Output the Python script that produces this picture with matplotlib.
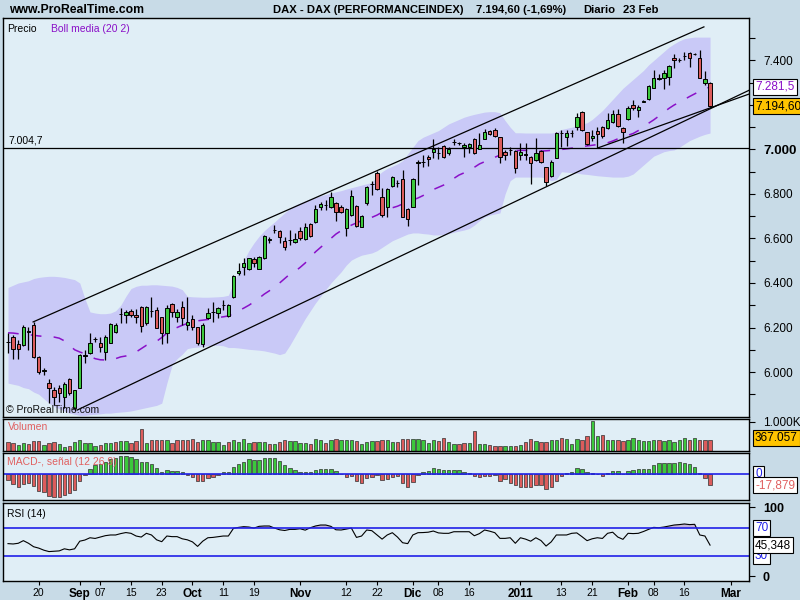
import matplotlib

matplotlib.use("Agg")
import matplotlib.pyplot as plt
import matplotlib.transforms as mtrans
import numpy as np
import pandas as pd

plt.rcParams["font.family"] = ["Liberation Sans", "DejaVu Sans"]

# ---- DAX daily, 12 Aug 2010 .. 23 Feb 2011 ----
opens = [6135, 6156, 6124, 6121, 6181, 6211, 6069, 6003, 5952, 5919,
         5927, 5889, 5969, 5837, 5927, 6072, 6084, 6148, 6129, 6091,
         6132, 6178, 6261, 6255, 6275, 6256, 6291, 6219, 6274, 6279,
         6246, 6174, 6306, 6249, 6293, 6211, 6237, 6201, 6124, 6241,
         6270, 6264, 6300, 6252, 6336, 6445, 6473, 6462, 6506, 6463,
         6511, 6593, 6637, 6634, 6589, 6593, 6583, 6634, 6596, 6664,
         6675, 6740, 6750, 6740, 6758, 6743, 6648, 6706, 6747, 6653,
         6758, 6844, 6896, 6788, 6743, 6836, 6848, 6866, 6731, 6743,
         6940, 6945, 6968, 6987, 6983, 7017, 6985, 7032, 7028, 7010,
         7012, 7046, 7001, 7047, 7083, 7088, 7055, 6987, 6998, 6995,
         6975, 6978, 6965, 6953, 6993, 6920, 6881, 6960, 7075, 7055,
         7075, 7100, 7167, 7077, 7050, 7083, 7100, 7095, 7122, 7158,
         7095, 7136, 7200, 7177, 7215, 7226, 7275, 7318, 7323, 7324,
         7410, 7402, 7420, 7432, 7429, 7412, 7297, 7297]
highs = [6175, 6166, 6144, 6211, 6204, 6226, 6072, 6017, 5967, 5934,
         5942, 5956, 5974, 5919, 6081, 6099, 6174, 6159, 6159, 6166,
         6222, 6222, 6286, 6279, 6282, 6282, 6297, 6297, 6338, 6293,
         6249, 6301, 6311, 6282, 6320, 6337, 6256, 6204, 6219, 6286,
         6316, 6293, 6324, 6306, 6436, 6488, 6511, 6514, 6518, 6523,
         6616, 6605, 6661, 6638, 6605, 6638, 6623, 6653, 6671, 6671,
         6750, 6765, 6773, 6810, 6765, 6750, 6735, 6818, 6750, 6706,
         6836, 6858, 6905, 6826, 6826, 6881, 6863, 6908, 6735, 6870,
         6953, 6975, 6975, 7046, 7012, 7020, 7012, 7046, 7034, 7030,
         7030, 7050, 7073, 7091, 7088, 7095, 7057, 6998, 7012, 6998,
         7030, 7028, 6971, 7050, 6998, 6923, 6953, 7080, 7088, 7088,
         7088, 7165, 7173, 7080, 7088, 7102, 7106, 7165, 7177, 7181,
         7102, 7195, 7222, 7200, 7222, 7290, 7357, 7339, 7357, 7380,
         7429, 7410, 7439, 7439, 7432, 7447, 7354, 7305]
lows = [6085, 6057, 6057, 6115, 6099, 6063, 5990, 5987, 5859, 5852,
        5867, 5840, 5897, 5826, 5927, 6042, 6080, 6136, 6091, 6054,
        6132, 6176, 6222, 6222, 6249, 6222, 6181, 6211, 6249, 6196,
        6126, 6129, 6249, 6226, 6211, 6190, 6189, 6121, 6114, 6238,
        6226, 6241, 6279, 6249, 6334, 6436, 6436, 6458, 6473, 6461,
        6510, 6581, 6623, 6578, 6548, 6571, 6578, 6593, 6593, 6608,
        6668, 6728, 6728, 6736, 6679, 6713, 6611, 6701, 6653, 6650,
        6750, 6795, 6818, 6698, 6698, 6833, 6830, 6695, 6656, 6743,
        6840, 6923, 6926, 6960, 6956, 6960, 6975, 7020, 7020, 6965,
        6986, 6980, 7001, 7047, 7065, 7057, 6941, 6953, 6975, 6896,
        6953, 6953, 6845, 6950, 6938, 6836, 6878, 6960, 7012, 7016,
        7055, 7088, 7084, 7020, 7038, 7005, 7050, 7092, 7120, 7102,
        7030, 7133, 7177, 7145, 7213, 7222, 7275, 7312, 7272, 7290,
        7365, 7395, 7402, 7369, 7425, 7321, 7290, 7190]
closes = [6133, 6102, 6102, 6201, 6183, 6066, 6001, 6008, 5927, 5889,
          5904, 5945, 5904, 5919, 6075, 6075, 6129, 6148, 6111, 6156,
          6216, 6210, 6261, 6268, 6255, 6249, 6207, 6291, 6273, 6199,
          6177, 6289, 6271, 6268, 6241, 6223, 6204, 6129, 6211, 6264,
          6271, 6286, 6302, 6301, 6431, 6454, 6488, 6511, 6488, 6518,
          6611, 6598, 6639, 6608, 6563, 6594, 6598, 6601, 6650, 6613,
          6731, 6754, 6751, 6785, 6718, 6720, 6731, 6791, 6657, 6701,
          6830, 6845, 6821, 6706, 6821, 6878, 6849, 6695, 6686, 6866,
          6945, 6946, 6956, 7000, 6984, 6965, 7003, 7033, 7029, 7020,
          7025, 6986, 7020, 7077, 7070, 7061, 6968, 6975, 6999, 6915,
          6990, 6977, 6938, 6983, 6945, 6855, 6945, 7075, 7074, 7075,
          7076, 7145, 7088, 7025, 7062, 7068, 7061, 7133, 7159, 7106,
          7077, 7185, 7185, 7192, 7220, 7287, 7323, 7320, 7342, 7375,
          7402, 7403, 7421, 7410, 7428, 7323, 7318, 7194.6]

# Bollinger (20, 2)
boll_upper = [6380, 6390, 6400, 6405, 6410, 6420, 6425, 6428, 6430, 6430,
              6428, 6425, 6420, 6415, 6400, 6330, 6270, 6265, 6262, 6262,
              6265, 6275, 6300, 6340, 6375, 6385, 6390, 6390, 6392, 6392,
              6390, 6388, 6386, 6380, 6370, 6340, 6338, 6337, 6336, 6336,
              6337, 6338, 6340, 6345, 6400, 6450, 6500, 6545, 6580, 6610,
              6635, 6655, 6674, 6695, 6715, 6735, 6750, 6760, 6770, 6778,
              6785, 6792, 6798, 6804, 6810, 6815, 6822, 6828, 6834, 6840,
              6846, 6852, 6880, 6900, 6915, 6925, 6935, 6950, 6980, 7010,
              7040, 7055, 7065, 7075, 7085, 7100, 7115, 7125, 7135, 7145,
              7152, 7158, 7163, 7168, 7170, 7170, 7165, 7130, 7100, 7075,
              7075, 7074, 7074, 7074, 7074, 7074, 7074, 7078, 7090, 7095,
              7100, 7108, 7115, 7120, 7135, 7155, 7175, 7200, 7225, 7250,
              7275, 7295, 7315, 7335, 7355, 7380, 7400, 7420, 7440, 7460,
              7475, 7488, 7498, 7502, 7505, 7505, 7505, 7505]
boll_lower = [5950, 5945, 5940, 5930, 5925, 5910, 5900, 5880, 5860, 5845,
              5835, 5825, 5815, 5810, 5805, 5805, 5808, 5810, 5812, 5815,
              5815, 5818, 5820, 5822, 5825, 5830, 5835, 5840, 5845, 5850,
              5860, 5950, 6030, 6060, 6080, 6105, 6110, 6112, 6115, 6118,
              6120, 6120, 6118, 6110, 6110, 6108, 6105, 6102, 6100, 6098,
              6095, 6090, 6085, 6078, 6085, 6120, 6160, 6200, 6240, 6275,
              6310, 6340, 6370, 6400, 6425, 6450, 6480, 6503, 6515, 6525,
              6530, 6535, 6545, 6560, 6575, 6590, 6600, 6610, 6620, 6625,
              6625, 6622, 6620, 6616, 6616, 6618, 6622, 6628, 6633, 6638,
              6645, 6660, 6680, 6697, 6705, 6710, 6715, 6800, 6860, 6876,
              6876, 6876, 6876, 6876, 6876, 6870, 6860, 6865, 6900, 6898,
              6896, 6894, 6890, 6888, 6885, 6882, 6880, 6878, 6876, 6876,
              6876, 6880, 6890, 6910, 6930, 6950, 6970, 6980, 6990, 6995,
              6998, 7010, 7025, 7040, 7050, 7060, 7068, 7074]
boll_mid = [6176, 6175, 6172, 6170, 6168, 6165, 6162, 6160, 6158, 6157,
            6152, 6140, 6120, 6100, 6090, 6082, 6070, 6060, 6055, 6054,
            6055, 6060, 6068, 6072, 6078, 6090, 6105, 6120, 6128, 6138,
            6155, 6175, 6190, 6200, 6210, 6218, 6225, 6230, 6233, 6236,
            6240, 6245, 6248, 6252, 6262, 6275, 6287, 6300, 6315, 6332,
            6350, 6365, 6380, 6400, 6420, 6440, 6452, 6470, 6490, 6515,
            6540, 6560, 6580, 6600, 6620, 6635, 6648, 6660, 6670, 6680,
            6688, 6695, 6705, 6718, 6728, 6738, 6745, 6755, 6765, 6773,
            6782, 6793, 6808, 6820, 6830, 6840, 6852, 6870, 6885, 6895,
            6905, 6920, 6935, 6945, 6955, 6965, 6975, 6988, 6993, 6995,
            6996, 6996, 6994, 6993, 6993, 6994, 6996, 6998, 7000, 7003,
            7006, 7010, 7013, 7016, 7019, 7022, 7026, 7030, 7038, 7048,
            7058, 7064, 7072, 7085, 7100, 7118, 7133, 7150, 7168, 7185,
            7200, 7212, 7225, 7238, 7250, 7262, 7272, 7281.5]

volume_k = [294, 270, 200, 270, 235, 318, 318, 212, 270, 294,
            247, 141, 176, 306, 353, 270, 270, 176, 212, 270,
            270, 306, 318, 318, 270, 318, 741, 270, 376, 376,
            353, 376, 270, 353, 353, 376, 412, 294, 353, 376,
            294, 294, 200, 294, 376, 294, 412, 270, 294, 294,
            294, 235, 235, 294, 376, 318, 318, 270, 270, 235,
            412, 353, 270, 353, 412, 353, 376, 353, 318, 235,
            294, 318, 318, 353, 376, 294, 294,
            388, 412, 388, 412, 353, 270, 353, 318, 447, 294,
            247, 247, 270, 270, 670, 247, 247, 200, 153, 176,
            153, 153, 153, 200, 294, 412, 318, 294, 294, 376,
            376, 447, 412, 247, 412, 376, 494, 1023, 494, 529,
            376, 376, 353, 318, 376, 447, 353, 318, 318, 353,
            376, 318, 376, 294, 376, 447, 376, 447, 353, 376, 367]

macd_hist = [-9.5, -16.3, -21.1, -16.3, -14.8, -19.0, -26.4, -27.9, -34.3, -36.9,
             -36.9, -33.2, -29.5, -25.3, -11.1, -2.1, 7.9, 14.2, 15.8, 19.5,
             23.2, 25.8, 29.0, 29.0, 27.4, 23.7, 18.4, 19.5, 15.8, 9.0,
             3.7, 5.8, 4.7, 4.7, 2.6, -1.6, -4.7, -11.6, -11.6, -6.9,
             -4.2, -2.1, 3.2, 3.7, 10.5, 15.8, 19.5, 23.2, 22.1, 22.1,
             24.8, 24.8, 24.8, 20.6, 14.2, 10.0, 6.3, 3.7, 3.2, 3.2,
             5.8, 7.4, 7.4, 7.4, 4.7, 0.3, -4.2, -3.2, -10.5, -13.7,
             -6.9, -4.2, -2.1, -9.5, -7.9, -4.2, -3.2,
             -13.7, -20.0, -13.2, -2.1, 3.2, 4.7, 9.0, 7.4, 5.8, 5.8,
             5.8, 5.8, 2.6, 2.1, -3.2, -5.3, -2.6, -2.6, -2.1, -10.5,
             -8.4, -14.8, -17.4, -21.1, -21.1, -21.1, -17.4, -17.4, -23.7, -21.1,
             -11.1, -3.2, 2.1, 3.2, 9.0, 7.4, 3.7, 2.1, 0.3, -2.6,
             2.1, 4.7, 4.2, 0.3, 4.7, 6.3, 7.4, 7.9, 7.9, 14.2,
             16.9, 17.9, 17.9, 17.9, 19.5, 17.9, 15.3, 11.1, 2.1, -5.8, -17.879]

rsi = [47.5, 47, 48, 51.8, 48, 43, 41, 38, 36, 36.5,
       37, 40, 38.5, 40, 51, 52.7, 56, 55, 57, 59,
       60, 60, 62, 63.5, 62.4, 58.5, 57, 62.4, 60, 53,
       50.3, 58.5, 57.6, 57.6, 54.5, 53, 50, 43.5, 51, 56,
       56.5, 57.5, 58.5, 58.5, 69.6, 71, 72, 71.5, 70, 72.5,
       73, 73, 70, 67.5, 66.5, 68.1, 68.1, 69, 67, 70.5,
       73, 74.4, 74.4, 72.5, 67.5, 67.2, 68.5, 70, 56.5, 58.5,
       67.2, 66.2, 60, 54, 60, 63.3, 57, 48.8, 47.5, 60,
       63.3, 63.5, 64, 65.7, 63, 62.4, 62.4, 64.7, 64.7, 64.7,
       64.7, 58.9, 62, 67.2, 65.5, 63.3, 55.1, 55.1, 56, 48,
       56, 54, 51, 56, 52, 44, 50, 60, 60, 60,
       62.4, 63, 57.6, 51.8, 54.5, 56, 55, 62.4, 64, 57,
       53.7, 62.4, 62, 62.4, 65, 68.1, 71, 70.5, 71.5, 73,
       74.4, 75, 75.9, 75, 75.4, 60, 58.5, 45.348]

# trend lines drawn on the chart: (candle index, price) end points
chan_top = ([4.9, 135.8], [6225, 7551])
chan_low = ([13.5, 144.6], [5829, 7266])
chan_low2 = ([115.1, 144.6], [7007, 7249])
hline_level = 7004.7

# x axis labels
tick_dates = ["2010-08-20", "2010-09-01", "2010-09-07", "2010-09-15", "2010-09-23",
              "2010-10-01", "2010-10-11", "2010-10-19", "2010-11-01", "2010-11-12",
              "2010-11-22", "2010-12-01", "2010-12-08", "2010-12-16", "2011-01-03",
              "2011-01-13", "2011-01-21", "2011-02-01", "2011-02-08", "2011-02-16",
              "2011-03-01"]
tick_text = ["20", "Sep", "07", "15", "23", "Oct", "11", "19", "Nov", "12", "22",
             "Dic", "08", "16", "2011", "13", "21", "Feb", "08", "16", "Mar"]
month_labels = {"Sep", "Oct", "Nov", "Dic", "2011", "Feb", "Mar"}

OUTER = "#c8dbe7"
PANEL = "#e0eef6"
GREEN = "#3cc83c"
RED = "#dc5c5c"
BAND = "#c9c9f7"
PURPLE = "#8a10c8"
BLUE = "#2020e8"
W, H = 800, 600

days = pd.bdate_range("2010-08-12", "2011-03-04")
days = days[~days.isin(pd.to_datetime(["2010-12-24", "2010-12-31"]))]
tick_pos = [days.get_loc(pd.Timestamp(d)) for d in tick_dates]

idx = np.arange(len(closes))
o, h, l, c = (np.array(a, dtype=float) for a in (opens, highs, lows, closes))

fig = plt.figure(figsize=(W / 100, H / 100), dpi=100, facecolor=OUTER)


def panel(x0, y0, x1, y1):
    ax = fig.add_axes([x0 / W, 1 - y1 / H, (x1 - x0) / W, (y1 - y0) / H])
    ax.set_facecolor(PANEL)
    ax.set_xlim(-0.976, 144.6)
    for s in ax.spines.values():
        s.set_linewidth(1.0)
        s.set_color("black")
    ax.yaxis.tick_right()
    ax.tick_params(axis="y", direction="out", length=4, width=0.8, pad=6,
                   labelsize=8.5)
    ax.set_xticks([])
    return ax


def side_box(ax, y, text, color="black", face="white", dx=6):
    tr = mtrans.blended_transform_factory(ax.transAxes, ax.transData)
    ax.text(1 + dx / 746, y, text, transform=tr, ha="left", va="center",
            fontsize=8.5, color=color, clip_on=False, zorder=10,
            bbox=dict(boxstyle="square,pad=0.18", fc=face, ec="black", lw=0.8))


# ---- price panel ----
ax = panel(3, 18, 749, 417)
ax.set_ylim(5797.8, 7590.9)
ax.fill_between(idx, boll_lower, boll_upper, color=BAND, lw=0)
ax.plot(idx, boll_mid, color=PURPLE, lw=1.1, dashes=(7, 8))
ax.axhline(hline_level, color="black", lw=0.9)
for xs, ys in (chan_top, chan_low, chan_low2):
    ax.plot(xs, ys, color="black", lw=0.9)
body_col = np.where(np.abs(c - o) < 4, "black", np.where(c >= o, GREEN, RED))
ax.vlines(idx, l, h, color="black", lw=0.9, zorder=3)
ax.bar(idx, np.maximum(np.abs(c - o), 0.5), bottom=np.minimum(o, c), width=0.66,
       color=body_col, edgecolor="black", lw=0.7, zorder=4)
pticks = list(range(5900, 7600, 100))
plabels = [f"{p // 1000}.{p % 1000:03d}" if p % 200 == 0 and p != 7200 else ""
           for p in pticks]
ax.set_yticks(pticks, plabels)
for t in ax.get_yticklabels():
    if t.get_text() == "7.000":
        t.set_fontweight("bold")
        t.set_fontsize(9.5)
side_box(ax, boll_mid[-1], "7.281,5", color=PURPLE)
side_box(ax, closes[-1], "7.194,60", face="#ffc400")
ax.text(5 / 746, hline_level + 12, "7.004,7", transform=mtrans.blended_transform_factory(
    ax.transAxes, ax.transData), fontsize=7.5, va="bottom")
ax.text(0.006, 0.985, "Precio", transform=ax.transAxes, fontsize=7.5, va="top")
ax.text(0.065, 0.985, "Boll media (20 2)", transform=ax.transAxes, fontsize=7.5,
        va="top", color=PURPLE)
ax.text(0.004, 0.005, "© ProRealTime.com", transform=ax.transAxes, fontsize=7.5,
        va="bottom", color="#111111", zorder=10)

# ---- volume ----
axv = panel(3, 419.3, 749, 450.7)
axv.set_ylim(0, 1083)
prev = np.r_[c[0] + 1, c[:-1]]
vcol = np.where(c >= prev, GREEN, RED)
axv.bar(idx, volume_k, width=0.66, color=vcol, edgecolor="#303030", lw=0.5)
axv.set_yticks([1000], ["1.000K"])
axv.text(0.006, 0.9, "Volumen", transform=axv.transAxes, fontsize=7.5, va="top",
         color="#e06060", zorder=10)
side_box(axv, 440, "367.057", face="#ffc400")

# ---- MACD histogram ----
axm = panel(3, 453.3, 749, 500)
axm.set_ylim(-41.1, 32.7)
mh = np.array(macd_hist)
axm.bar(idx, mh, width=0.66, color=np.where(mh >= 0, GREEN, RED),
        edgecolor="#303030", lw=0.5)
axm.axhline(0, color=BLUE, lw=1.2)
axm.set_yticks([])
axm.text(0.006, 0.93, "MACD-, señal (12 26 9)", transform=axm.transAxes,
         fontsize=7.5, va="top", color="#e06060", zorder=10)
side_box(axm, 0, "0", color=BLUE)
side_box(axm, macd_hist[-1], "-17,879", color="#e06060")

# ---- RSI ----
axr = panel(3, 503.3, 749, 580.7)
axr.set_ylim(-6.1, 105.8)
r = np.array(rsi)
axr.fill_between(idx, 70, r, where=r > 70, interpolate=True, color="#c3b5d6", lw=0)
axr.plot(idx, r, color="black", lw=0.8)
axr.axhline(70, color=BLUE, lw=1.2)
axr.axhline(30, color=BLUE, lw=1.2)
axr.set_yticks([0, 100], ["0", "100"])
for t in axr.get_yticklabels():
    t.set_fontweight("bold")
    t.set_fontsize(9)
side_box(axr, 70, "70", color=BLUE)
side_box(axr, 30, "30", color=BLUE)
side_box(axr, rsi[-1], "45,348")
axr.text(0.006, 0.93, "RSI (14)", transform=axr.transAxes, fontsize=7.5, va="top")
axr.set_xticks(tick_pos, tick_text)
axr.tick_params(axis="x", direction="out", length=3, width=0.8, pad=2, labelsize=7.5)
for t in axr.get_xticklabels():
    if t.get_text() in month_labels:
        t.set_fontweight("bold")
        t.set_fontsize(8.5)

# ---- header ----
hdr = dict(fontsize=8.1, fontweight="bold", va="center")
fig.text(9 / W, 1 - 10 / H, "www.ProRealTime.com", fontsize=8.8, fontweight="bold",
         va="center")
fig.text(273 / W, 1 - 10 / H, "DAX - DAX (PERFORMANCEINDEX)", **hdr)
fig.text(476 / W, 1 - 10 / H, "7.194,60 (-1,69%)", **hdr)
fig.text(583 / W, 1 - 10 / H, "Diario", **hdr)
fig.text(623 / W, 1 - 10 / H, "23 Feb", **hdr)

fig.savefig("out.png", dpi=100, facecolor=OUTER)
